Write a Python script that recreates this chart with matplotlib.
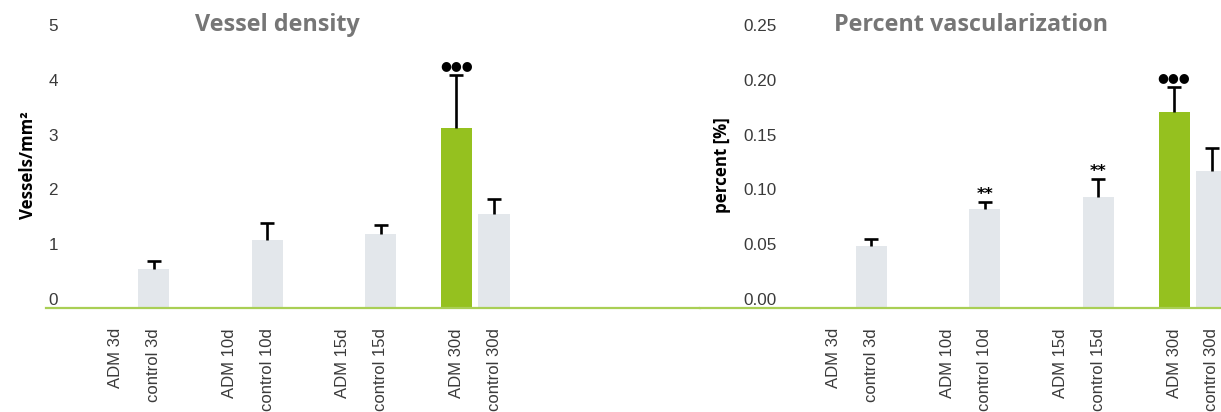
import matplotlib
matplotlib.use("Agg")
import matplotlib.pyplot as plt
import matplotlib.transforms as mtransforms
import numpy as np

# Data
groups = ["3d", "10d", "15d", "30d"]

adm_density = [0.0, 0.0, 0.0, 3.28]
adm_density_err = [0.0, 0.0, 0.0, 0.98]
ctrl_density = [0.71, 1.24, 1.35, 1.72]
ctrl_density_err = [0.14, 0.31, 0.17, 0.27]

adm_percent = [0.0, 0.0, 0.0, 0.1786]
adm_percent_err = [0.0, 0.0, 0.0, 0.0228]
ctrl_percent = [0.0566, 0.0903, 0.1013, 0.125]
ctrl_percent_err = [0.0066, 0.0060, 0.0161, 0.0207]

density_ticks = [0, 1, 2, 3, 4, 5]
percent_ticks = [0.0, 0.05, 0.10, 0.15, 0.20, 0.25]

# significance marks: (series, group index, symbol)
density_marks = [("adm", 3, "●●●")]
percent_marks = [("ctrl", 1, "**"), ("ctrl", 2, "**"), ("adm", 3, "●●●")]

green = "#95c11f"
grey = "#e3e7eb"
baseline = "#a9cf55"
title_col = "#767676"
text_col = "#3a3a3a"

W, H = 1221, 412
fig = plt.figure(figsize=(W/100, H/100), dpi=100)

pitch = 37.83      # px between neighbouring bars
unit_px = 54.8     # px per tick step
bottom_px = 308
top_px = 15


def draw_panel(left_px, right_px, pos0_px, adm, adm_err, ctrl, ctrl_err,
               ticks, fmt, step, title, title_x, ylabel, ylabel_x, label_right_px, marks):
	"""Draws one grouped bar panel with up-only error bars."""
	ax = fig.add_axes([left_px/W, (H-bottom_px)/H, (right_px-left_px)/W, (bottom_px-top_px)/H])
	ax.set_xlim((left_px-pos0_px)/pitch, (right_px-pos0_px)/pitch)
	ax.set_ylim(0, (bottom_px-top_px)/unit_px*step)

	idx = np.arange(len(groups))
	xa = idx*3
	xc = idx*3 + 1
	ax.bar(xa, adm, width=0.82, color=green, zorder=2)
	ax.bar(xc, ctrl, width=0.82, color=grey, zorder=2)

	ekw = dict(fmt="none", ecolor="black", elinewidth=1.9, capsize=4.7, capthick=1.9, zorder=3)
	for x, v, e in zip(list(xa)+list(xc), list(adm)+list(ctrl), list(adm_err)+list(ctrl_err)):
		if v > 0:
			_, caps, _ = ax.errorbar([x], [v], yerr=[[0], [e]], **ekw)
			# only the upper cap is shown
			for c in caps:
				if c.get_ydata()[0] <= v:
					c.set_visible(False)

	for series, gi, sym in marks:
		if series == "adm":
			x, top = xa[gi], adm[gi] + adm_err[gi]
		else:
			x, top = xc[gi], ctrl[gi] + ctrl_err[gi]
		if sym.startswith("●"):
			ax.annotate(sym, (x, top), xytext=(0, 2), textcoords="offset points",
				ha="center", va="bottom", fontsize=9, color="black", family="DejaVu Sans")
		else:
			ax.annotate(sym, (x, top), xytext=(0, 0), textcoords="offset points",
				ha="center", va="bottom", fontsize=11.5, fontweight="bold", color="black",
				family="DejaVu Sans")

	# x labels
	xt = []
	xl = []
	for i, g in enumerate(groups):
		xt += [xa[i], xc[i]]
		xl += ["ADM " + g, "control " + g]
	ax.set_xticks(xt)
	ax.set_xticklabels(xl, rotation=90, ha="center", va="top",
		fontsize=12, color=text_col, family="Liberation Sans")
	ax.tick_params(axis="x", length=0, pad=14.5)

	# y labels sit inside the panel, a bit above their value
	ax.set_yticks(ticks)
	ax.set_yticklabels([fmt.format(t) for t in ticks], fontsize=12.3, color=text_col,
		family="Liberation Sans")
	ax.tick_params(axis="y", length=0, pad=-(label_right_px-left_px)*0.72)
	shift = mtransforms.ScaledTranslation(0, 0.09, fig.dpi_scale_trans)
	for lab in ax.get_yticklabels():
		lab.set_transform(lab.get_transform() + shift)

	for s in ["top", "right", "left"]:
		ax.spines[s].set_visible(False)
	ax.spines["bottom"].set_color(baseline)
	ax.spines["bottom"].set_linewidth(1.6)
	ax.spines["bottom"].set_zorder(4)

	ax.text(title_x, (bottom_px-31)/(bottom_px-top_px), title, transform=ax.transAxes,
		ha="center", va="baseline", fontsize=16.8, fontweight="bold", color=title_col,
		family="Open Sans")
	ax.set_ylabel(ylabel, fontsize=12.2, fontweight="bold", color="black",
		family="Open Sans", va="center")
	ax.yaxis.set_label_coords(ylabel_x, (bottom_px-165)/(bottom_px-top_px))
	return ax


draw_panel(46, 700, 115.7, adm_density, adm_density_err, ctrl_density, ctrl_density_err,
	density_ticks, "{:d}", 1, "Vessel density", (277-46)/654,
	"Vessels/mm²", (28-46)/654, 58, density_marks)

draw_panel(700, 1221, 833.6, adm_percent, adm_percent_err, ctrl_percent, ctrl_percent_err,
	percent_ticks, "{:.2f}", 0.05, "Percent vascularization", (971.5-700)/521,
	"percent [%]", (722-700)/521, 777, percent_marks)

fig.savefig("out.png", dpi=100)
